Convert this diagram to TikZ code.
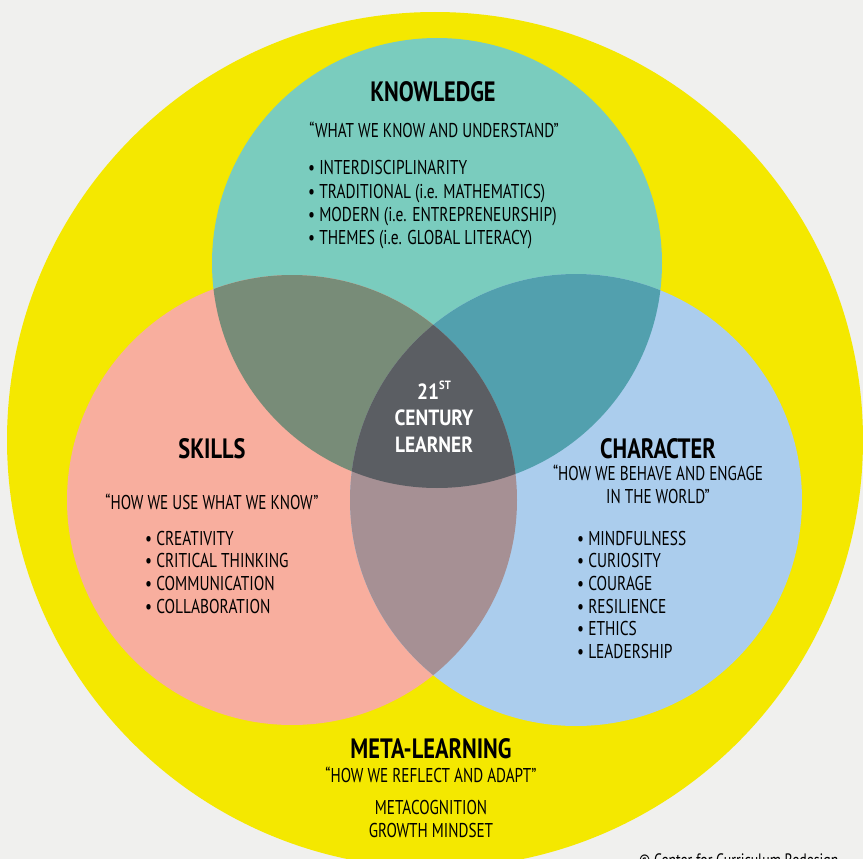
\documentclass[tikz,border=0pt]{standalone}
\usepackage{fontspec}
\newfontfamily\regf{PT Sans}[FakeStretch=0.77]
\newfontfamily\qf{PT Sans}[FakeStretch=0.76]
\newfontfamily\boldf{PT Sans}[FakeStretch=0.8]
\newfontfamily\ctrf{PT Sans}[FakeStretch=0.88]
\definecolor{bgc}{RGB}{240,240,238}
\definecolor{yel}{RGB}{244,232,0}
\definecolor{teal}{RGB}{122,204,190}
\definecolor{salm}{RGB}{248,174,158}
\definecolor{lblue}{RGB}{171,205,237}
\definecolor{ks}{RGB}{120,140,120}
\definecolor{kc}{RGB}{82,160,174}
\definecolor{sc}{RGB}{166,144,148}
\definecolor{mid}{RGB}{91,94,99}
\tikzset{
  ttl/.style={font=\boldf\bfseries\fontsize{28}{30}\selectfont, inner sep=0pt, anchor=base},
  qt/.style={font=\qf\fontsize{20}{23}\selectfont, inner sep=0pt, anchor=base},
  lst/.style={font=\regf\fontsize{20}{23}\selectfont, inner sep=0pt, anchor=base west},
  ctr/.style={font=\ctrf\bfseries\fontsize{22}{27}\selectfont, inner sep=0pt, anchor=base, text=white},
}
\begin{document}
\begin{tikzpicture}[x=1pt,y=-1pt]
\useasboundingbox (0,0) rectangle (863,859);
\fill[bgc] (0,0) rectangle (863,859);
\clip (0,0) rectangle (863,859);
\fill[yel] (435,440) circle[radius=428pt];
\def\kc{(437,263) circle[radius=225pt]}
\def\sk{(292,500) circle[radius=225pt]}
\def\ch{(576,500) circle[radius=226pt]}
\fill[teal] \kc;
\fill[salm] \sk;
\fill[lblue] \ch;
\begin{scope}\clip \kc; \fill[ks] \sk; \fill[kc] \ch; \end{scope}
\begin{scope}\clip \sk; \fill[sc] \ch; \clip \ch; \fill[mid] \kc; \end{scope}
% Knowledge
\node[ttl] (kt) at (433,102) {KNOWLEDGE};
\node[qt] (kq) at (434,138) {“WHAT WE KNOW AND UNDERSTAND”};
\foreach \t [count=\i] in {INTERDISCIPLINARITY,TRADITIONAL (i.e. MATHEMATICS),MODERN (i.e. ENTREPRENEURSHIP),THEMES (i.e. GLOBAL LITERACY)}
  \node[lst] (kl\i) at (308,{175+23*(\i-1)}) {• \t};
% Skills
\node[ttl] (st) at (212,458) {SKILLS};
\node[qt] (sq) at (212,509) {“HOW WE USE WHAT WE KNOW”};
\foreach \t [count=\i] in {CREATIVITY,CRITICAL THINKING,COMMUNICATION,COLLABORATION}
  \node[lst] (sl\i) at (145,{545+22.7*(\i-1)}) {• \t};
% Character
\node[ttl] (ct) at (658,458) {CHARACTER};
\node[qt] (cq1) at (658,480) {“HOW WE BEHAVE AND ENGAGE};
\node[qt] (cq2) at (658,503) {IN THE WORLD”};
\foreach \t [count=\i] in {MINDFULNESS,CURIOSITY,COURAGE,RESILIENCE,ETHICS,LEADERSHIP}
  \node[lst] (cl\i) at (577,{545+22.7*(\i-1)}) {• \t};
% Center
\node[ctr] (c1) at (434,399) {21\raisebox{0.45em}{\fontsize{12}{12}\selectfont ST}};
\node[ctr] (c2) at (434,425) {CENTURY};
\node[ctr] (c3) at (434,452) {LEARNER};
% Meta
\node[ttl, font=\boldf\bfseries\fontsize{28}{30}\selectfont] (mt) at (431,758) {META-LEARNING};
\node[qt] (mq) at (431,782) {“HOW WE REFLECT AND ADAPT”};
\node[qt] (m1) at (431,814) {METACOGNITION};
\node[qt] (m2) at (431,837) {GROWTH MINDSET};
\node[font=\regf\fontsize{18}{20}\selectfont, inner sep=0pt, anchor=base west] (cp) at (639,866) {© Center for Curriculum Redesign};
\end{tikzpicture}
\end{document}
